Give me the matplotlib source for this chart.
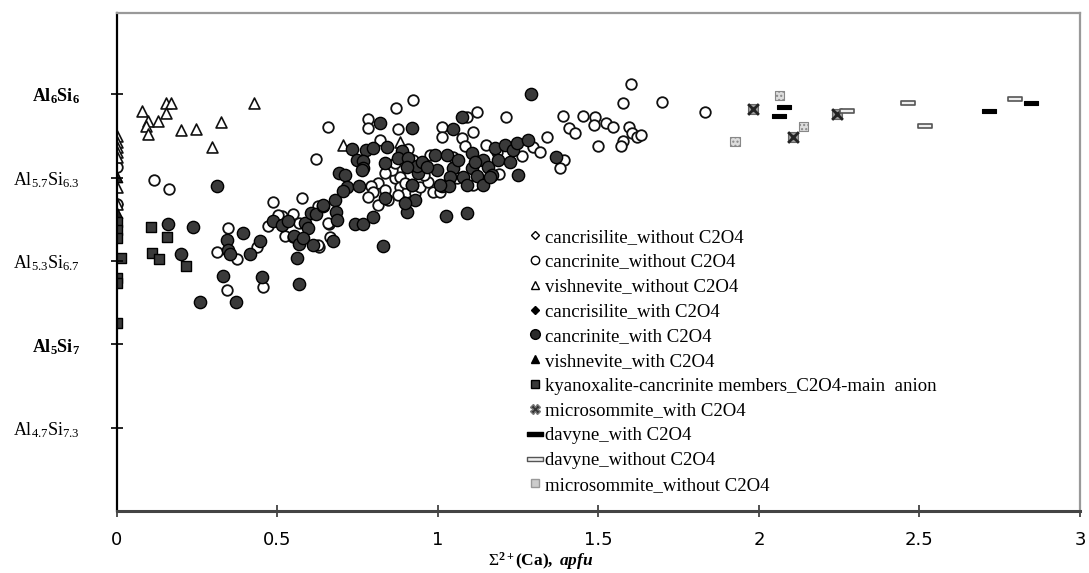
import matplotlib
matplotlib.use('Agg')
import matplotlib.pyplot as plt
from matplotlib.path import Path
from matplotlib.lines import Line2D

plt.rcParams['font.family'] = ['Liberation Serif', 'DejaVu Serif']
plt.rcParams['mathtext.fontset'] = 'custom'
plt.rcParams['mathtext.rm'] = 'Liberation Serif'
plt.rcParams['mathtext.it'] = 'Liberation Serif:italic'
plt.rcParams['mathtext.bf'] = 'Liberation Serif:bold'
plt.rcParams['mathtext.bfit'] = 'Liberation Serif:italic:bold'

# x = sum of 2+ cations (Ca), apfu ; y = Al apfu (Al6Si6 ... Al4.7Si7.3)
cancrisilite_wo_x = [0.0]
cancrisilite_wo_al = [5.561]

cancrinite_wo_x = [0.115, 0.162, 0.311, 0.347, 0.375, 0.342, 0.456, 0.435, 0.471, 0.487,
                   0.513, 0.547, 0.523, 0.568, 0.577, 0.549, 0.630, 0.664, 0.661, 0.619,
                   0.658, 0.626, 0.783, 0.783, 0.869, 0.921, 0.874, 0.819, 0.907, 0.866,
                   0.882, 0.856, 0.835, 0.814, 0.790, 0.798, 0.783, 0.814, 0.845, 0.835,
                   0.882, 0.902, 0.928, 0.944, 0.970, 0.985, 1.006, 0.957, 0.939, 0.923,
                   1.012, 1.012, 1.074, 1.089, 1.121, 1.110, 1.084, 1.048, 1.058, 1.110,
                   1.150, 1.183, 1.212, 1.191, 1.261, 1.297, 1.318, 1.340, 1.393, 1.380,
                   1.390, 1.409, 1.427, 1.453, 1.489, 1.486, 1.498, 1.523, 1.546, 1.575,
                   1.569, 1.596, 1.603, 1.619, 1.631, 1.577, 1.600, 1.697, 1.832, 0.656,
                   0.627, 0.975, 0.502, 0.0, 0.0, 0.897, 0.875, 0.866]
cancrinite_wo_al = [5.657, 5.620, 5.370, 5.464, 5.341, 5.217, 5.228, 5.388, 5.474, 5.568,
                    5.514, 5.521, 5.433, 5.484, 5.586, 5.430, 5.388, 5.428, 5.481, 5.741,
                    5.868, 5.553, 5.901, 5.866, 5.946, 5.977, 5.861, 5.817, 5.781, 5.664,
                    5.670, 5.697, 5.684, 5.644, 5.633, 5.610, 5.590, 5.557, 5.577, 5.617,
                    5.630, 5.610, 5.604, 5.630, 5.650, 5.610, 5.610, 5.677, 5.697, 5.737,
                    5.870, 5.830, 5.824, 5.910, 5.930, 5.850, 5.793, 5.750, 5.664, 5.637,
                    5.797, 5.770, 5.908, 5.681, 5.753, 5.788, 5.770, 5.830, 5.737, 5.704,
                    5.913, 5.864, 5.844, 5.914, 5.908, 5.877, 5.793, 5.884, 5.868, 5.814,
                    5.793, 5.870, 5.846, 5.830, 5.837, 5.964, 6.041, 5.970, 5.928, 5.484,
                    5.397, 5.757, 5.517, 5.711, 5.561, 5.645, 5.597, 5.725]

vishnevite_wo_x = [0.077, 0.096, 0.089, 0.096, 0.129, 0.153, 0.167, 0.153, 0.200, 0.246,
                   0.323, 0.427, 0.295, 0.705, 0.882, 0.0, 0.0, 0.0, 0.0, 0.0, 0.0, 0.0]
vishnevite_wo_al = [5.934, 5.894, 5.874, 5.841, 5.893, 5.964, 5.964, 5.926, 5.857, 5.860,
                    5.890, 5.966, 5.788, 5.797, 5.811, 5.833, 5.811, 5.788, 5.769, 5.748,
                    5.630, 5.561]

cancrisilite_w_x = []
cancrisilite_w_al = []

cancrinite_w_x = [0.311, 0.160, 0.238, 0.199, 0.393, 0.342, 0.347, 0.352, 0.414, 0.445,
                  0.331, 0.451, 0.259, 0.370, 0.560, 0.568, 0.487, 0.513, 0.534, 0.551,
                  0.567, 0.586, 0.596, 0.580, 0.610, 0.603, 0.620, 0.641, 0.674, 0.679,
                  0.682, 0.693, 1.290, 0.819, 0.920, 1.074, 1.048, 0.731, 0.775, 0.798,
                  0.840, 0.887, 0.876, 0.907, 0.835, 0.747, 0.767, 0.767, 0.710, 0.716,
                  0.755, 0.705, 0.684, 0.643, 0.741, 0.767, 0.797, 0.828, 0.835, 0.902,
                  0.928, 0.920, 0.939, 0.934, 0.902, 0.949, 0.991, 0.996, 1.027, 1.048,
                  1.037, 1.012, 1.035, 1.025, 1.089, 1.079, 1.089, 1.105, 1.105, 1.121,
                  1.141, 1.157, 1.141, 1.167, 1.178, 1.209, 1.188, 1.224, 1.235, 1.245,
                  1.281, 1.250, 1.368, 0.762, 0.918, 0.897, 0.965, 1.062, 1.162, 1.006,
                  1.115]
cancrinite_w_al = [5.634, 5.481, 5.468, 5.360, 5.444, 5.417, 5.377, 5.361, 5.360, 5.414,
                   5.273, 5.270, 5.170, 5.170, 5.344, 5.241, 5.494, 5.477, 5.494, 5.433,
                   5.400, 5.484, 5.464, 5.424, 5.397, 5.526, 5.521, 5.553, 5.414, 5.577,
                   5.530, 5.686, 6.000, 5.884, 5.864, 5.908, 5.860, 5.780, 5.777, 5.784,
                   5.788, 5.775, 5.746, 5.744, 5.726, 5.737, 5.733, 5.704, 5.677, 5.630,
                   5.633, 5.614, 5.497, 5.557, 5.480, 5.481, 5.510, 5.393, 5.584, 5.530,
                   5.577, 5.637, 5.684, 5.713, 5.710, 5.730, 5.757, 5.697, 5.757, 5.704,
                   5.670, 5.633, 5.633, 5.513, 5.526, 5.670, 5.637, 5.764, 5.704, 5.673,
                   5.737, 5.710, 5.637, 5.677, 5.784, 5.797, 5.737, 5.730, 5.777, 5.804,
                   5.817, 5.677, 5.750, 5.697, 5.637, 5.566, 5.710, 5.737, 5.670, 5.637,
                   5.730]

vishnevite_w_x = [0.0, 0.0]
vishnevite_w_al = [5.670, 5.524]

kyanoxalite_x = [0.105, 0.157, 0.108, 0.130, 0.215, 0.0, 0.0, 0.0, 0.012, 0.0, 0.0, 0.0]
kyanoxalite_al = [5.468, 5.428, 5.366, 5.340, 5.314, 5.488, 5.457, 5.424, 5.345, 5.264,
                  5.245, 5.084]

microsommite_w_x = [1.982, 2.107, 2.242]
microsommite_w_al = [5.940, 5.828, 5.920]

davyne_w_x = [2.079, 2.062, 2.717, 2.847]
davyne_w_al = [5.948, 5.914, 5.934, 5.966]

davyne_wo_x = [2.273, 2.465, 2.517, 2.798]
davyne_wo_al = [5.933, 5.964, 5.873, 5.981]

microsommite_wo_x = [2.063, 2.138, 1.925]
microsommite_wo_al = [5.994, 5.870, 5.810]

y_ticks = [14 / 3, 5.0, 16 / 3, 17 / 3, 6.0]
y_labels = [r'$\mathrm{Al_{4.7}Si_{7.3}}$', r'$\mathbf{Al_5Si_7}$', r'$\mathrm{Al_{5.3}Si_{6.7}}$',
            r'$\mathrm{Al_{5.7}Si_{6.3}}$', r'$\mathbf{Al_6Si_6}$']
x_ticks = [0, 0.5, 1, 1.5, 2, 2.5, 3]
x_labels = ['0', '0.5', '1', '1.5', '2', '2.5', '3']

bar = Path([(-1, -0.3), (1, -0.3), (1, 0.3), (-1, 0.3), (-1, -0.3)],
           [Path.MOVETO, Path.LINETO, Path.LINETO, Path.LINETO, Path.CLOSEPOLY])

fig = plt.figure(figsize=(10.89, 5.73), dpi=100, facecolor='w')
ax = fig.add_axes([0.1074, 0.1082, 0.8843, 0.8691])

# open markers first, filled ones on top
ax.scatter(cancrisilite_wo_x, cancrisilite_wo_al, marker='D', s=30, facecolor='w', edgecolor='k', linewidth=1.1)
ax.scatter(cancrinite_wo_x, cancrinite_wo_al, marker='o', s=58, facecolor='w', edgecolor='#111', linewidth=1.3)
ax.scatter(vishnevite_wo_x, vishnevite_wo_al, marker='^', s=62, facecolor='w', edgecolor='#111', linewidth=1.2)
ax.scatter(cancrinite_w_x, cancrinite_w_al, marker='o', s=78, facecolor='#3a3a3a', edgecolor='k', linewidth=1.0)
ax.scatter(vishnevite_w_x, vishnevite_w_al, marker='^', s=55, facecolor='#222', edgecolor='k', linewidth=1.0)
ax.scatter(kyanoxalite_x, kyanoxalite_al, marker='s', s=45, facecolor='#3a3a3a', edgecolor='k', linewidth=1.0)
ax.scatter(microsommite_w_x, microsommite_w_al, marker='s', s=60, facecolor='#9a9a9a', edgecolor='#666', linewidth=0.8)
ax.scatter(microsommite_w_x, microsommite_w_al, marker='x', s=60, color='#222', linewidth=2.0)
ax.scatter(davyne_w_x, davyne_w_al, marker=bar, s=110, facecolor='k', edgecolor='k', linewidth=0.8)
ax.scatter(davyne_wo_x, davyne_wo_al, marker=bar, s=110, facecolor='#eee', edgecolor='#555', linewidth=1.2)
ax.scatter(microsommite_wo_x, microsommite_wo_al, marker='s', s=45, facecolor='#ddd', edgecolor='#888',
           linewidth=0.8, hatch='....')

ax.set_xlim(0, 3)
ax.set_ylim(13 / 3, 6.325)
ax.set_xticks(x_ticks)
ax.set_xticklabels(x_labels, family=['Liberation Sans Narrow', 'DejaVu Sans'], size=13)
ax.set_yticks(y_ticks)
ax.set_yticklabels(y_labels, size=13)
ax.tick_params(axis='x', direction='inout', length=9, width=1.2, color='#333', pad=10)
ax.tick_params(axis='y', direction='inout', length=9, width=1.2, color='k', pad=22)

ax.spines['left'].set_color('k')
ax.spines['left'].set_linewidth(1.6)
ax.spines['bottom'].set_color('#444')
ax.spines['bottom'].set_linewidth(2.2)
ax.spines['top'].set_color('#999')
ax.spines['top'].set_linewidth(1.6)
ax.spines['right'].set_color('#999')
ax.spines['right'].set_linewidth(1.6)

ax.set_xlabel(r'$\Sigma^{\mathbf{2+}}\mathbf{(Ca),}\ \mathbfit{apfu}$', size=12.5)
ax.xaxis.set_label_coords(0.44, -0.079)

handles = [
    Line2D([], [], ls='', marker='D', ms=4, mfc='w', mec='k', mew=1.0),
    Line2D([], [], ls='', marker='o', ms=6, mfc='w', mec='k', mew=1.0),
    Line2D([], [], ls='', marker='^', ms=6, mfc='w', mec='k', mew=1.0),
    Line2D([], [], ls='', marker='D', ms=4.5, mfc='k', mec='k'),
    Line2D([], [], ls='', marker='o', ms=7, mfc='#2a2a2a', mec='k'),
    Line2D([], [], ls='', marker='^', ms=6, mfc='k', mec='k'),
    Line2D([], [], ls='', marker='s', ms=6, mfc='#3a3a3a', mec='k'),
    Line2D([], [], ls='', marker='X', ms=7, mfc='#333', mec='#777'),
    Line2D([], [], ls='', marker=bar, ms=11, mfc='k', mec='k'),
    Line2D([], [], ls='', marker=bar, ms=11, mfc='#eee', mec='#555', mew=1.0),
    Line2D([], [], ls='', marker='s', ms=6, mfc='#ccc', mec='#999'),
]
labels = ['cancrisilite_without C2O4', 'cancrinite_without C2O4', 'vishnevite_without C2O4',
          'cancrisilite_with C2O4', 'cancrinite_with C2O4', 'vishnevite_with C2O4',
          'kyanoxalite-cancrinite members_C2O4-main  anion', 'microsommite_with C2O4',
          'davyne_with C2O4', 'davyne_without C2O4', 'microsommite_without C2O4']
ax.legend(handles, labels, loc='upper left', bbox_to_anchor=(0.419, 0.582), frameon=False,
          fontsize=13.5, handlelength=0.7, handletextpad=0.2, labelspacing=0.41, borderaxespad=0)

fig.savefig('out.png', dpi=100, facecolor='w')
